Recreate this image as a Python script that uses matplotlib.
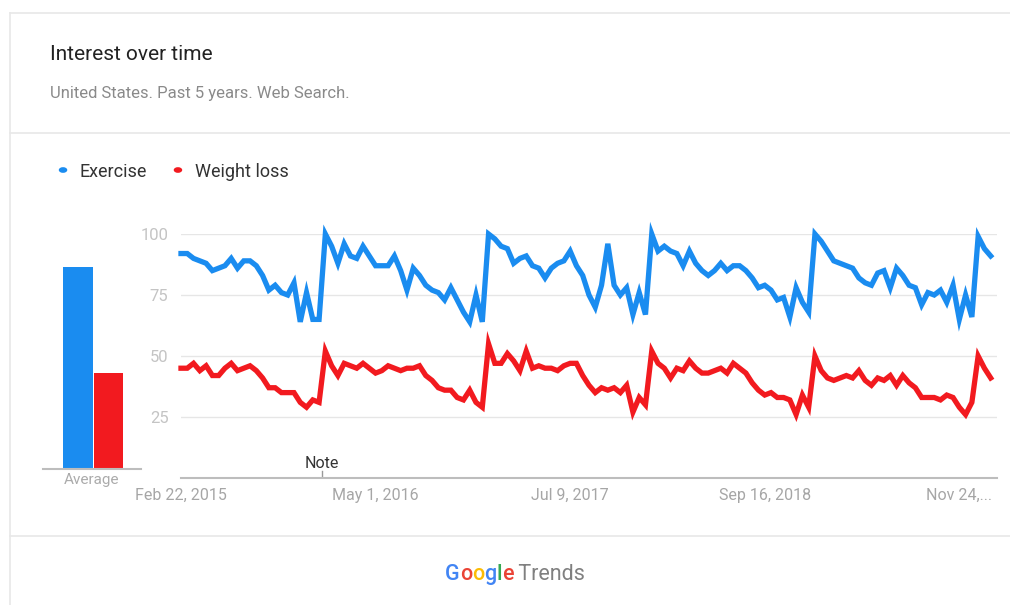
import pandas as pd
import matplotlib.pyplot as plt
from matplotlib.lines import Line2D
from matplotlib.patches import Circle

plt.rcParams['font.family'] = ['Roboto', 'DejaVu Sans']

# Google Trends data, read every second week off the chart
dates = pd.date_range('2015-02-22', periods=130, freq='14D')

exercise = [
    92, 92, 90, 89, 88, 85, 86, 87, 90, 86,
    89, 89, 87, 83, 77, 79, 76, 75, 80, 64,
    76, 65, 65, 100, 95, 88, 96, 91, 90, 95,
    91, 87, 87, 87, 91, 85, 77, 86, 83, 79,
    77, 76, 73, 78, 73, 68, 64, 75, 64, 100,
    98, 95, 94, 88, 90, 91, 87, 86, 82, 86,
    88, 89, 93, 87, 83, 75, 70, 79, 96, 79,
    75, 78, 67, 76, 67, 100, 93, 95, 93, 92,
    87, 93, 88, 85, 83, 85, 88, 85, 87, 87,
    85, 82, 78, 79, 77, 73, 74, 66, 78, 72,
    68, 100, 97, 93, 89, 88, 87, 86, 82, 80,
    79, 84, 85, 78, 86, 83, 79, 78, 71, 76,
    75, 77, 72, 79, 65, 75, 66, 99, 94, 91,
]

weight_loss = [
    45, 45, 47, 44, 46, 42, 42, 45, 47, 44,
    45, 46, 44, 41, 37, 37, 35, 35, 35, 31,
    29, 32, 31, 52, 46, 42, 47, 46, 45, 47,
    45, 43, 44, 46, 45, 44, 45, 45, 46, 42,
    40, 37, 36, 36, 33, 32, 36, 31, 29, 55,
    47, 47, 51, 48, 44, 52, 45, 46, 45, 45,
    44, 46, 47, 47, 42, 38, 35, 37, 36, 37,
    35, 38, 27, 33, 30, 52, 47, 45, 41, 45,
    44, 48, 45, 43, 43, 44, 45, 43, 47, 45,
    43, 39, 36, 34, 35, 33, 33, 32, 26, 34,
    29, 50, 44, 41, 40, 41, 42, 41, 44, 40,
    38, 41, 40, 42, 38, 42, 39, 37, 33, 33,
    33, 32, 34, 33, 29, 26, 31, 50, 45, 41,
]

series_names = ['Exercise', 'Weight loss']
averages = [86, 41]
tick_dates = ['2015-02-22', '2016-05-01', '2017-07-09', '2018-09-16', '2019-11-24']
tick_labels = ['Feb 22, 2015', 'May 1, 2016', 'Jul 9, 2017', 'Sep 16, 2018', 'Nov 24,...']
note_date = '2016-01-03'

BLUE = '#1a8cf0'
RED = '#f21a1f'

fig = plt.figure(figsize=(10.1, 6.05), dpi=100)

# card outline and dividers
card = dict(color='#e8e8e8', lw=1.2)
fig.add_artist(Line2D([0.0099, 1.0], [0.9785, 0.9785], **card))
fig.add_artist(Line2D([0.0099, 0.0099], [0.0, 0.9785], **card))
fig.add_artist(Line2D([0.0099, 1.0], [0.780, 0.780], **card))
fig.add_artist(Line2D([0.0099, 1.0], [0.114, 0.114], **card))

fig.text(0.0495, 0.9095, 'Interest over time', fontsize=15, color='#222222', va='center')
fig.text(0.0495, 0.845, 'United States. Past 5 years. Web Search.', fontsize=12,
         color='#8a8a8a', va='center')

# legend
for dx, name, col in [(0.0624, series_names[0], BLUE), (0.1762, series_names[1], RED)]:
    fig.add_artist(Circle((dx, 0.719), 0.0035, transform=fig.transFigure, color=col))
    fig.text(dx + 0.0168, 0.716, name, fontsize=13, color='#333333', va='center')

# main line chart
ax = fig.add_axes([0.1792, 0.2099, 0.8079, 0.4033])
ax.plot(dates, exercise, color=BLUE, lw=3.8, solid_joinstyle='miter', clip_on=False, zorder=3)
ax.plot(dates, weight_loss, color=RED, lw=3.8, solid_joinstyle='miter', clip_on=False, zorder=3)
ax.set_ylim(0, 100)
ax.set_xlim(pd.Timestamp('2015-02-22'), pd.Timestamp('2020-02-16'))
ax.set_yticks([25, 50, 75, 100])
ax.set_yticklabels(['25', '50', '75', '100'])
ax.set_xticks(pd.to_datetime(tick_dates))
ax.set_xticklabels(tick_labels)
ax.tick_params(axis='y', length=0, pad=9, labelsize=12, labelcolor='#c4c4c4')
ax.tick_params(axis='x', length=0, pad=7, labelsize=11.5, labelcolor='#a6a6a6')
ax.grid(axis='y', color='#e6e6e6', lw=1)
ax.set_axisbelow(True)
for side in ['top', 'right', 'left']:
    ax.spines[side].set_visible(False)
ax.spines['bottom'].set_color('#bdbdbd')
ax.spines['bottom'].set_linewidth(1.5)

# note marker
note_x = pd.Timestamp(note_date)
ax.axvline(note_x, ymin=0, ymax=0.03, color='#9a9a9a', lw=1)
ax.text(note_x, 0.06, 'Note', transform=ax.get_xaxis_transform(), ha='center',
        va='center', fontsize=11.5, color='#333333')

# average bars
bx = fig.add_axes([0.0426, 0.2248, 0.097, 0.3884])
bx.bar([0, 1], averages, width=0.967, color=[BLUE, RED])
bx.set_xlim(-1.15, 2.08)
bx.set_ylim(0, 100)
bx.set_xticks([])
bx.set_yticks([])
for side in ['top', 'right', 'left']:
    bx.spines[side].set_visible(False)
bx.spines['bottom'].set_color('#bdbdbd')
bx.spines['bottom'].set_linewidth(1.5)
bx.text(0.5, -0.048, 'Average', transform=bx.transAxes, ha='center', va='center',
        fontsize=11, color='#ababab')

# footer logo
letters = [('G', '#4285F4'), ('o', '#EA4335'), ('o', '#FBBC05'), ('g', '#4285F4'),
           ('l', '#34A853'), ('e', '#EA4335'), (' Trends', '#808080')]
prev = fig.text(0.4406, 0.042, letters[0][0], fontsize=15.5, color=letters[0][1],
                va='baseline', fontweight='medium')
for ch, col in letters[1:]:
    prev = fig.add_artist(plt.Annotation(ch, xy=(1, 0), xycoords=prev, va='bottom',
                                         fontsize=15.5, color=col,
                                         fontweight='medium' if ch != ' Trends' else 'normal'))

plt.savefig('out.png', dpi=100)
